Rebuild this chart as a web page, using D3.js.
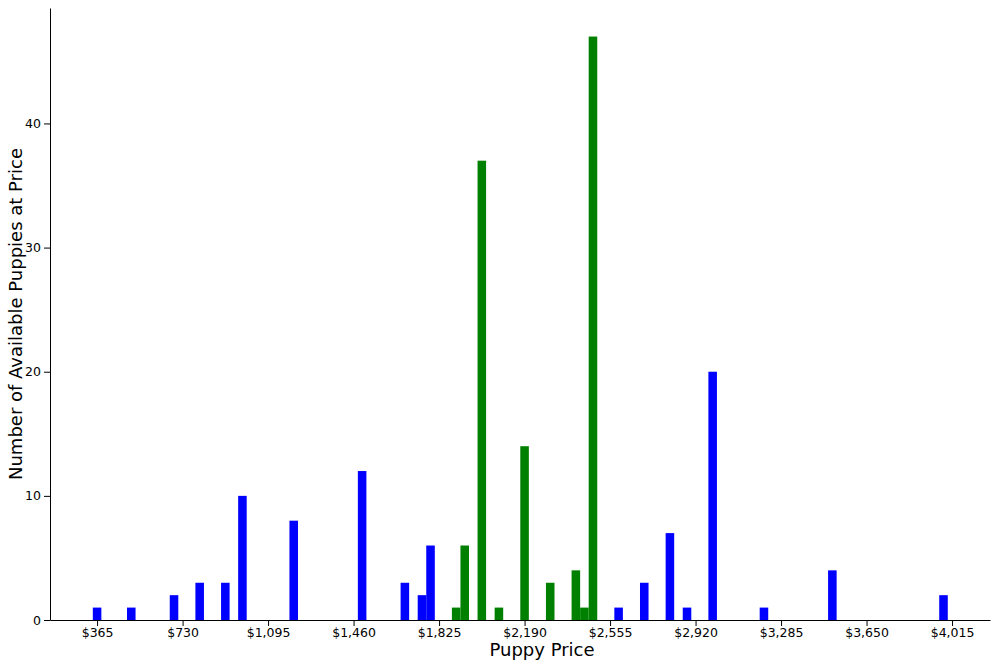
<!DOCTYPE html>
<html><head><meta charset="utf-8">
<script src="https://cdn.jsdelivr.net/npm/d3@7"></script>
<style>body{margin:0;background:#fff}</style></head>
<body><div id="chart"></div>
<script>
// bin centres (price) and counts, bin width $36.5
const binWidth = 36.5;
const bluePrices = [365, 511, 693.5, 803, 912.5, 985.5, 1204.5, 1496.5, 1679, 1752, 1788.5, 2591.5, 2701, 2810.5, 2883.5, 2993, 3212, 3504, 3978.5];
const blueCounts = [1, 1, 2, 3, 3, 10, 8, 12, 3, 2, 6, 1, 3, 7, 1, 20, 1, 4, 2];
const greenPrices = [1898, 1934.5, 2007.5, 2080.5, 2190, 2299.5, 2409, 2445.5, 2482];
const greenCounts = [1, 6, 37, 1, 14, 3, 4, 1, 47];
const tickValues = [365, 730, 1095, 1460, 1825, 2190, 2555, 2920, 3285, 3650, 4015];

const margin = {top: 8, right: 10, bottom: 46, left: 50};
const width = 1000 - margin.left - margin.right;
const height = 666 - margin.top - margin.bottom;

const x = d3.scaleLinear().domain([164, 4177]).range([0, width]);
const y = d3.scaleLinear().domain([0, 49.3]).range([height, 0]);

const svg = d3.select('#chart').append('svg')
  .attr('width', 1000).attr('height', 666)
  .append('g')
  .attr('transform', `translate(${margin.left},${margin.top})`);

function drawBars(prices, counts, color) {
  svg.selectAll(null).data(prices).enter().append('rect')
    .attr('x', d => x(d - binWidth / 2))
    .attr('width', d => x(d + binWidth / 2) - x(d - binWidth / 2))
    .attr('y', (d, i) => y(counts[i]))
    .attr('height', (d, i) => y(0) - y(counts[i]))
    .attr('fill', color);
}
drawBars(bluePrices, blueCounts, '#0000ff');
drawBars(greenPrices, greenCounts, '#008000');

const xAxis = svg.append('g')
  .attr('transform', `translate(0,${height})`)
  .call(d3.axisBottom(x).tickValues(tickValues).tickFormat(d => '$' + d3.format(',')(d)).tickSizeOuter(0).tickPadding(2));
const yAxis = svg.append('g')
  .call(d3.axisLeft(y).tickValues([0, 10, 20, 30, 40]).tickSizeOuter(0));
[xAxis, yAxis].forEach(a => {
  a.selectAll('text').attr('font-size', 12.5).attr('font-family', 'DejaVu Sans').attr('fill', '#000');
  a.selectAll('line,path').attr('stroke', '#000');
});

svg.append('text')
  .attr('x', width / 2 + 22).attr('y', height + 36)
  .attr('text-anchor', 'middle').attr('font-size', 18).attr('font-family', 'DejaVu Sans')
  .text('Puppy Price');
svg.append('text')
  .attr('transform', `translate(-28,${height / 2}) rotate(-90)`)
  .attr('text-anchor', 'middle').attr('font-size', 18).attr('font-family', 'DejaVu Sans')
  .text('Number of Available Puppies at Price');
</script></body></html>
